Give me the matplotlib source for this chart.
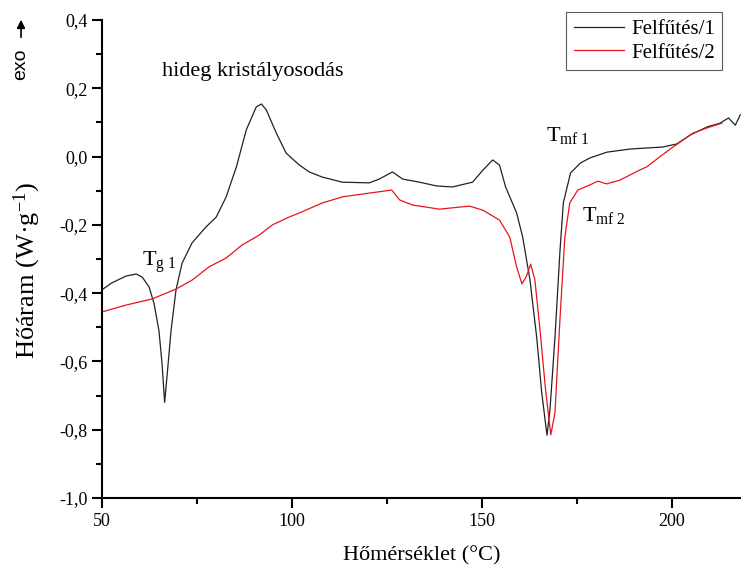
import numpy as np
import matplotlib.pyplot as plt
from matplotlib.ticker import MultipleLocator, FuncFormatter
from matplotlib.patches import FancyArrowPatch

# Felfutes/1 (black)
x1 = [50, 52.6, 56.3, 59, 60.6, 62.4, 63.7, 65, 65.8, 66.5, 67.2, 68.2, 69.5, 71.1,
      73.7, 77.4, 80.1, 82.7, 85.4, 88, 90.6, 92, 93.3, 95.9, 98.5, 102, 104.6, 108,
      113.3, 120.4, 123, 126.5, 129.2, 133.6, 138.1, 142.3, 147.6, 150.3, 152.9, 154.7,
      156.3, 159.2, 160.8, 162.7, 164.5, 165.8, 167.2, 168, 169.3, 170.6, 171.5, 173.4,
      176, 178.5, 183, 189, 197.7, 201.4, 204.9, 209.4, 212.8, 215, 216.8, 218.1]
y1 = [-0.39, -0.37, -0.35, -0.344, -0.353, -0.382, -0.43, -0.51, -0.605, -0.72, -0.634,
      -0.508, -0.39, -0.312, -0.253, -0.206, -0.177, -0.118, -0.03, 0.078, 0.145, 0.154,
      0.136, 0.069, 0.01, -0.025, -0.045, -0.06, -0.075, -0.077, -0.066, -0.045, -0.066,
      -0.075, -0.086, -0.089, -0.075, -0.04, -0.01, -0.025, -0.089, -0.165, -0.236,
      -0.36, -0.53, -0.69, -0.816, -0.74, -0.53, -0.28, -0.136, -0.048, -0.019, -0.004,
      0.013, 0.022, 0.028, 0.037, 0.063, 0.087, 0.098, 0.113, 0.092, 0.122]

# Felfutes/2 (red)
x2 = [50, 56.3, 63.2, 69.5, 73.7, 78.2, 82.7, 86.9, 91.4, 94.9, 99.3, 102, 108, 113.3,
      120.4, 126.3, 128.4, 131.8, 138.9, 146.8, 150.3, 154.7, 157.4, 159.2, 160.6, 161.8,
      162.9, 164, 165.3, 166.8, 168.2, 169.3, 170.6, 171.9, 173.2, 175.3, 178.5, 180.6,
      182.9, 186.4, 191.7, 193.5, 197, 200.4, 205.7, 209.4, 213.3]
y2 = [-0.455, -0.435, -0.417, -0.388, -0.362, -0.323, -0.297, -0.259, -0.23, -0.2, -0.177,
      -0.165, -0.136, -0.118, -0.107, -0.098, -0.127, -0.142, -0.154, -0.145, -0.157,
      -0.186, -0.236, -0.323, -0.373, -0.35, -0.315, -0.36, -0.5, -0.68, -0.815, -0.75,
      -0.48, -0.236, -0.136, -0.098, -0.083, -0.072, -0.08, -0.069, -0.039, -0.03, 0.0,
      0.028, 0.069, 0.084, 0.098]

labels = ['Felfűtés/1', 'Felfűtés/2']

plt.rcParams['font.family'] = ['Liberation Serif', 'DejaVu Serif']
plt.rcParams['mathtext.fontset'] = 'custom'
plt.rcParams['mathtext.rm'] = 'Liberation Serif'
plt.rcParams['mathtext.it'] = 'Liberation Serif:italic'

fig = plt.figure(figsize=(7.41, 5.66), dpi=100)
ax = fig.add_axes([102/741, 68/566, 639/741, 478/566])

ax.plot(x1, y1, '-', color='#222222', lw=0.9, label=labels[0])
ax.plot(x2, y2, '-', color='#e8141c', lw=0.9, label=labels[1])

ax.set_xlim(50, 218.3)
ax.set_ylim(-1.0, 0.4)
ax.spines['top'].set_visible(False)
ax.spines['right'].set_visible(False)
ax.spines['left'].set_linewidth(1.5)
ax.spines['bottom'].set_linewidth(1.5)

ax.xaxis.set_major_locator(MultipleLocator(50))
ax.xaxis.set_minor_locator(MultipleLocator(25))
ax.yaxis.set_major_locator(MultipleLocator(0.2))
ax.yaxis.set_minor_locator(MultipleLocator(0.1))
ax.yaxis.set_major_formatter(FuncFormatter(lambda v, p: f'{v:.1f}'.replace('.', ',').replace('-0,0', '0,0')))
ax.tick_params(which='major', direction='out', length=7, width=1.5, labelsize=13)
ax.tick_params(which='minor', direction='out', length=4, width=1.5)

ax.set_xlabel('Hőmérséklet (°C)', fontsize=16, labelpad=12)
ax.set_ylabel('Hőáram (W·g$^{-1}$)', fontsize=19)
ax.yaxis.set_label_coords(-0.093, 0.477)

ax.text(65.8, 0.25, 'hideg kristályosodás', fontsize=16, va='center')
ax.text(60.5, -0.32, r'T$_{\mathrm{g\ 1}}$', fontsize=16)
ax.text(167.0, 0.045, r'T$_{\mathrm{mf\ 1}}$', fontsize=16)
ax.text(176.5, -0.19, r'T$_{\mathrm{mf\ 2}}$', fontsize=16)

fig.text(21/741, 1 - 64/566, 'exo', rotation=90, fontsize=14, ha='center', va='center',
         family='Liberation Sans')
fig.add_artist(FancyArrowPatch((21/741, 1 - 40/566), (21/741, 1 - 17/566),
               transform=fig.transFigure, arrowstyle='-|>', mutation_scale=12, lw=1.2, color='black'))

leg = ax.legend(loc='upper right', bbox_to_anchor=(722/741, 1 - 12/566), bbox_transform=fig.transFigure,
                borderaxespad=0, fontsize=15, frameon=True, fancybox=False, edgecolor='#333333',
                handlelength=2.4, borderpad=0.35, labelspacing=0.2, handletextpad=0.35)
leg.get_frame().set_linewidth(0.8)

plt.savefig('out.png', dpi=100)
